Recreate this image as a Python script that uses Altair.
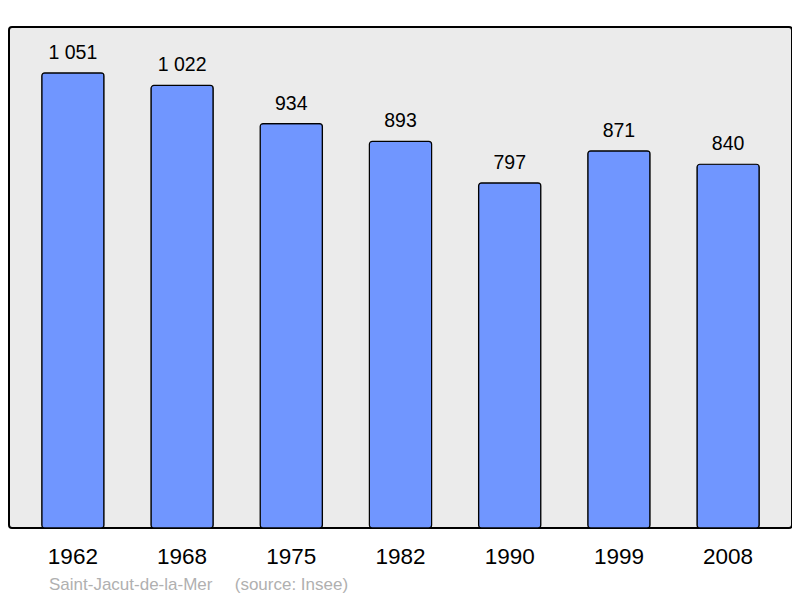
import altair as alt
import pandas as pd

years = ["1962", "1968", "1975", "1982", "1990", "1999", "2008"]
population = [1051, 1022, 934, 893, 797, 871, 840]
labels = [f"{v:,}".replace(",", " ") for v in population]

df = pd.DataFrame({"year": years, "pop": population, "label": labels})

FONT = "Liberation Sans"

x = alt.X("year:N", sort=years, title=None,
          scale=alt.Scale(paddingInner=0.43, paddingOuter=0.3),
          axis=alt.Axis(labelAngle=0, labelFontSize=22.5, labelColor="black",
                        labelFont=FONT, domain=False, ticks=False,
                        labelBaseline="alphabetic", labelPadding=35))
y = alt.Y("pop:Q", title=None, scale=alt.Scale(domain=[0, 1157], nice=False),
          axis=None)

bars = alt.Chart(df).mark_bar(
    color="#7096ff", stroke="black", strokeWidth=1.2, cornerRadius=3
).encode(x=x, y=y)

text = alt.Chart(df).mark_text(
    font=FONT, fontSize=19.5, color="black", baseline="alphabetic", dy=-14
).encode(x=x, y=y, text="label:N")

chart = (bars + text).properties(
    width=783, height=501,
    title=alt.TitleParams(
        "Saint-Jacut-de-la-Mer" + "\u00a0" * 4 + "\u2009(source: Insee)",
        orient="bottom", anchor="start", font=FONT, fontSize=17,
        fontWeight="normal", color="#b0b0b0", dx=40, offset=22,
        baseline="alphabetic"),
    padding={"left": 1, "top": 19, "right": 0, "bottom": 70},
    autosize="none",
).configure_view(
    fill="#ebebeb", stroke="black", strokeWidth=2, cornerRadius=3
)

chart.save("out.html", embed_options={"renderer": "svg", "actions": False})
